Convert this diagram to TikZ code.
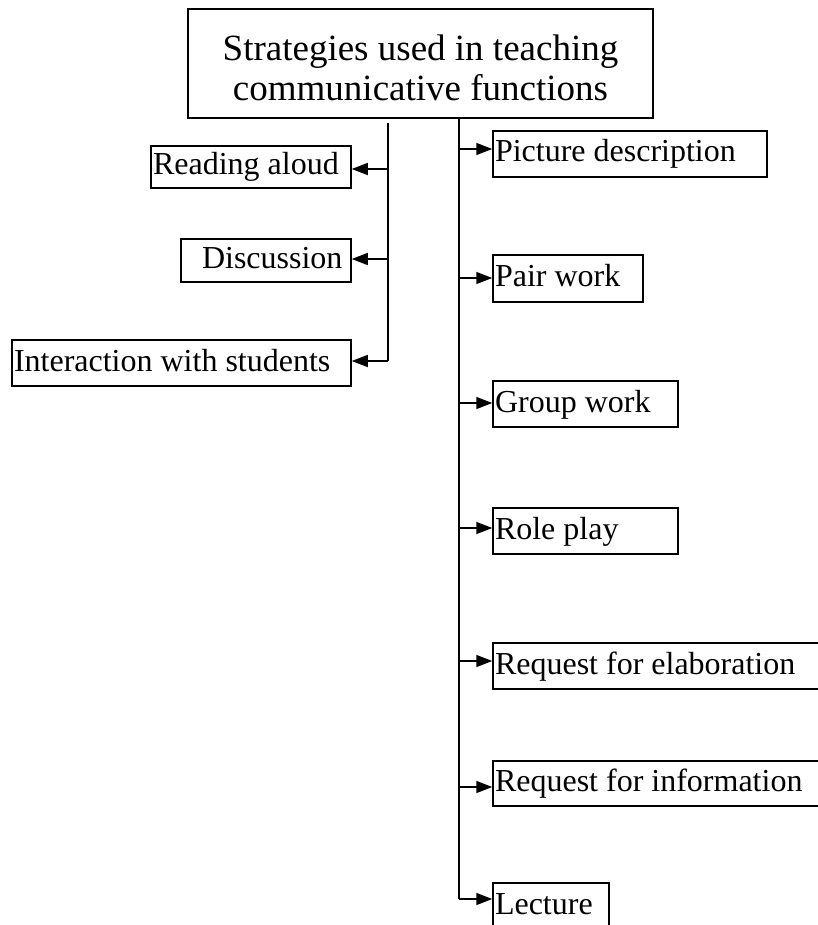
\documentclass[tikz,border=0pt]{standalone}
\usepackage{fontspec}
\setmainfont{Liberation Serif}
\usetikzlibrary{arrows.meta}
\newcommand{\myboxfont}{\fontsize{32}{38}\selectfont}
\newcommand{\mytitlefont}{\fontsize{37}{40}\selectfont}
\newcommand{\lbox}[2]{\makebox[#1][l]{#2}}
\begin{document}
\begin{tikzpicture}[x=1pt,y=-1pt,
  box/.style={draw, line width=1.5pt, inner sep=2pt, font=\myboxfont,
    text height=24pt, text depth=8pt},
  arr/.style={line width=1.5pt, -{Triangle[length=16pt,width=12pt]}},
  trunk/.style={line width=1.8pt}]
\useasboundingbox (0,0) rectangle (817,925);
% title
\node[draw, line width=1.5pt, minimum width=465pt, minimum height=109pt] (top) at (420.5,63.5) {};
\node[align=center, inner sep=0pt, font=\mytitlefont] (toptext) at (420.5,68)
  {Strategies used in teaching\\communicative functions};
% left boxes
\node[box, minimum width=200pt, minimum height=42pt] (ra) at (251,167) {\lbox{196pt}{Reading aloud}};
\node[box, minimum width=170pt, minimum height=43pt] (di) at (266,260.5) {\lbox{166pt}{\hspace*{19pt}Discussion}};
\node[box, minimum width=339pt, minimum height=46pt] (iw) at (181.5,363) {\lbox{335pt}{Interaction with students}};
% right boxes
\node[box, minimum width=274pt, minimum height=46pt] (pd) at (630,154) {\lbox{270pt}{Picture description}};
\node[box, minimum width=150pt, minimum height=47pt] (pw) at (568,278.5) {\lbox{146pt}{Pair work}};
\node[box, minimum width=185pt, minimum height=46pt] (gw) at (585.5,404) {\lbox{181pt}{Group work}};
\node[box, minimum width=185pt, minimum height=46pt] (rp) at (585.5,531) {\lbox{181pt}{Role play}};
\node[box, minimum width=327pt, minimum height=46pt] (re) at (656.5,666) {\lbox{323pt}{Request for elaboration}};
\node[box, minimum width=327pt, minimum height=45pt] (ri) at (656.5,783.5) {\lbox{323pt}{Request for information}};
\node[box, minimum width=116pt, minimum height=46pt] (le) at (551,906) {\lbox{112pt}{Lecture}};
% left trunk
\coordinate (lt) at (388,123);
\coordinate (lb) at (388,361);
\draw[trunk] (lt) -- (lb);
\coordinate (la) at (388,169);
\coordinate (ld) at (388,259);
\draw[arr] (la) -- (ra.east |- la);
\draw[arr] (ld) -- (di.east |- ld);
\draw[arr] (lb) -- (iw.east |- lb);
% right trunk
\coordinate (rb) at (459,899);
\draw[trunk] (top.south -| rb) -- (rb);
\coordinate (r1) at (459,149);
\coordinate (r2) at (459,278);
\coordinate (r3) at (459,403);
\coordinate (r4) at (459,528);
\coordinate (r5) at (459,661);
\coordinate (r6) at (459,787);
\draw[arr] (r1) -- (pd.west |- r1);
\draw[arr] (r2) -- (pw.west |- r2);
\draw[arr] (r3) -- (gw.west |- r3);
\draw[arr] (r4) -- (rp.west |- r4);
\draw[arr] (r5) -- (re.west |- r5);
\draw[arr] (r6) -- (ri.west |- r6);
\draw[arr] (rb) -- (le.west |- rb);
\end{tikzpicture}
\end{document}
